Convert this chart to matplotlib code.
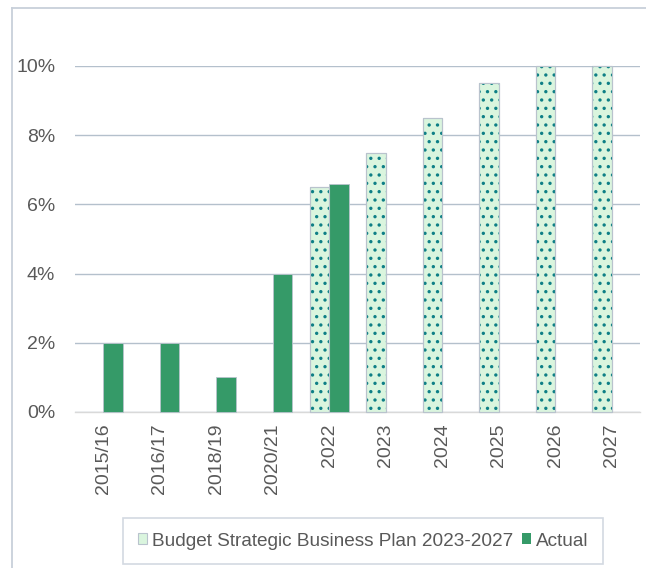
import matplotlib.pyplot as plt
import numpy as np
from matplotlib.patches import Patch
from matplotlib.lines import Line2D
from matplotlib.ticker import FuncFormatter

plt.rcParams['font.family'] = ['Liberation Sans', 'DejaVu Sans']
plt.rcParams['hatch.linewidth'] = 1.2

# data
periods = ['2015/16', '2016/17', '2018/19', '2020/21', '2022',
           '2023', '2024', '2025', '2026', '2027']
budget = [np.nan, np.nan, np.nan, np.nan, 0.065, 0.075, 0.085, 0.095, 0.10, 0.10]
actual = [0.02, 0.02, 0.01, 0.04, 0.066, np.nan, np.nan, np.nan, np.nan, np.nan]

budget_label = 'Budget Strategic Business Plan 2023-2027'
actual_label = 'Actual'

fill_light = '#daf5de'
dot_color = '#0e7f86'
green = '#359a68'
edge_grey = '#b9c3cd'
grid_col = '#b4c0cc'
text_col = '#595959'

W, H = 646, 568
fig = plt.figure(figsize=(W / 100, H / 100), dpi=100)
ax = fig.add_axes([74.75 / W, (H - 412) / H, (640 - 74.75) / W, 346 / H])

x = np.arange(len(periods))
bw = 0.345

# budget bars: light fill first, then the dotted pattern on top
ax.bar(x - bw / 2, budget, bw, color=fill_light, edgecolor=edge_grey,
       linewidth=0.8, zorder=3)
ax.bar(x - bw / 2, budget, bw, facecolor='none', edgecolor=dot_color,
       hatch='..', linewidth=0, zorder=4)
ax.bar(x - bw / 2, budget, bw, facecolor='none', edgecolor=edge_grey,
       linewidth=0.8, zorder=5)
ax.bar(x + bw / 2, actual, bw, color=green, edgecolor=edge_grey,
       linewidth=0.6, zorder=3)

ax.set_xlim(-0.5, len(periods) - 0.5)
ax.set_ylim(0, 0.10)
ax.set_yticks(np.arange(0, 0.101, 0.02))
ax.yaxis.set_major_formatter(FuncFormatter(lambda v, p: f'{v * 100:.0f}%'))
ax.set_xticks(x)
ax.set_xticklabels(periods, rotation=90)

ax.grid(axis='y', color=grid_col, linewidth=1.0, zorder=0)
ax.set_axisbelow(True)
for s in ['top', 'right', 'left']:
    ax.spines[s].set_visible(False)
ax.spines['bottom'].set_color('#d9d9d9')
ax.spines['bottom'].set_linewidth(1.0)
ax.spines['bottom'].set_zorder(2)

ax.tick_params(axis='both', length=0, labelsize=14, colors=text_col)
ax.tick_params(axis='y', pad=14)
ax.tick_params(axis='x', pad=8)

for p in ax.patches:
    p.set_clip_on(False)

# chart frame (left and top edges visible)
fig.add_artist(Line2D([12 / W, 12 / W], [0, 1 - 8 / H], color='#c8d0da',
                      linewidth=1.3, transform=fig.transFigure))
fig.add_artist(Line2D([12 / W, 1], [1 - 8 / H, 1 - 8 / H], color='#c8d0da',
                      linewidth=1.3, transform=fig.transFigure))

handles = [Patch(facecolor=fill_light, edgecolor=edge_grey, linewidth=0.8),
           Patch(facecolor=green, edgecolor='none')]
leg = fig.legend(handles, [budget_label, actual_label], ncol=2,
                 loc='center', bbox_to_anchor=(363 / W, 1 - 541 / H),
                 fontsize=13.7, frameon=True, fancybox=False, borderpad=0.75,
                 handlelength=0.5, handleheight=0.5, handletextpad=0.25,
                 columnspacing=0.45, labelcolor=text_col)
leg.get_frame().set_edgecolor('#c8d0da')
leg.get_frame().set_linewidth(1.2)

fig.savefig('out.png', dpi=100)
